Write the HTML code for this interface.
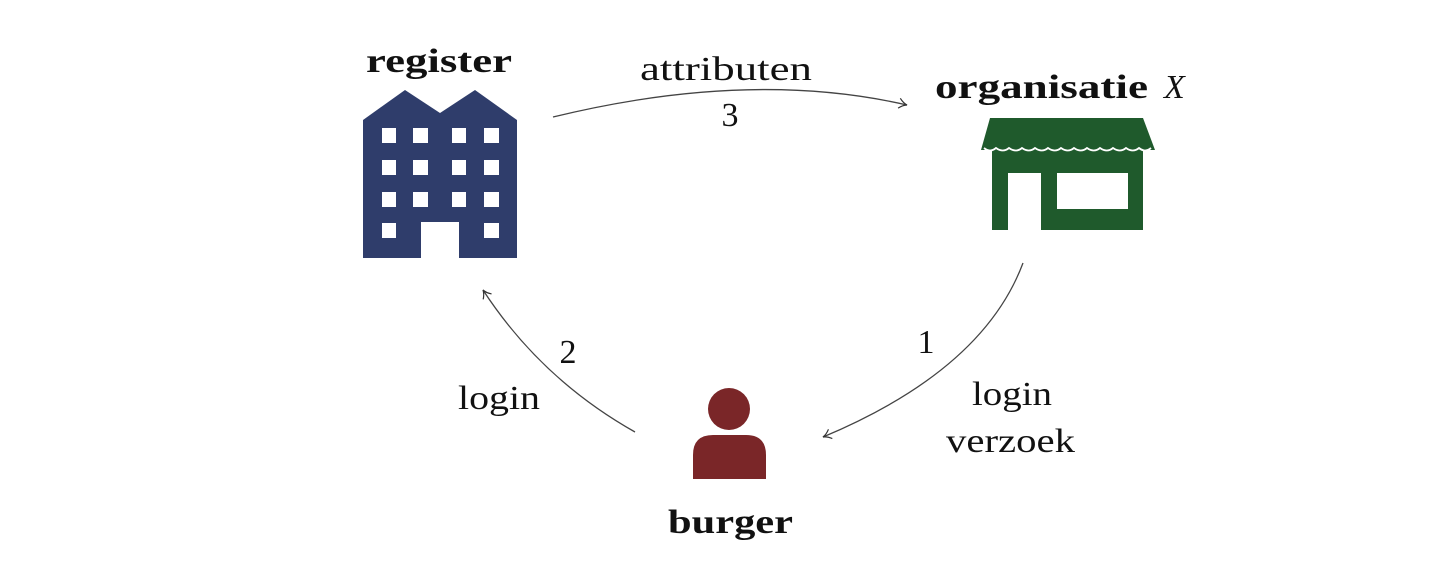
<!DOCTYPE html>
<html><head><meta charset="utf-8"><style>
html,body{margin:0;padding:0;background:#fff;width:1440px;height:573px;overflow:hidden}
svg{display:block}
text{font-family:"Liberation Serif",serif;fill:#111}
</style></head><body>
<svg width="1440" height="573" viewBox="0 0 1440 573" xmlns="http://www.w3.org/2000/svg">
<defs>
<marker id="ah" markerWidth="12" markerHeight="12" refX="10" refY="6" orient="auto" markerUnits="userSpaceOnUse">
<path d="M2,1 Q6,5 10,6 Q6,7 2,11" fill="none" stroke="#333" stroke-width="1.2"/>
</marker>
</defs>
<!-- building -->
<path d="M363,120 L405,90 L440,113 L475,90 L517,120 L517,258 L459,258 L459,222 L421,222 L421,258 L363,258 Z" fill="#2f3d6b"/>
<g fill="#fff">
<rect x="382" y="128" width="14" height="15"/><rect x="413" y="128" width="15" height="15"/><rect x="452" y="128" width="14" height="15"/><rect x="484" y="128" width="15" height="15"/>
<rect x="382" y="160" width="14" height="15"/><rect x="413" y="160" width="15" height="15"/><rect x="452" y="160" width="14" height="15"/><rect x="484" y="160" width="15" height="15"/>
<rect x="382" y="192" width="14" height="15"/><rect x="413" y="192" width="15" height="15"/><rect x="452" y="192" width="14" height="15"/><rect x="484" y="192" width="15" height="15"/>
<rect x="382" y="223" width="14" height="15"/><rect x="484" y="223" width="15" height="15"/>
</g>
<!-- shop -->
<path d="M990,118 L1143,118 L1155,150 L981,150 Z" fill="#1f5a2c"/>
<path d="M992,150 L1143,150 L1143,230 L1041,230 L1041,173 L1008,173 L1008,230 L992,230 Z M1057,173 L1057,209 L1128,209 L1128,173 Z" fill="#1f5a2c" fill-rule="evenodd"/>
<path d="M984,148 q6,5 12,0 q7,5 13,0 q7,5 13,0 q7,5 13,0 q7,5 13,0 q7,5 13,0 q7,5 13,0 q7,5 13,0 q7,5 13,0 q7,5 13,0 q7,5 13,0 q7,5 13,0 q6,5 12,0" fill="none" stroke="#fff" stroke-width="1.8"/>
<!-- person -->
<circle cx="729" cy="409" r="21" fill="#7a2628"/>
<path d="M693,479 L693,455 Q693,435 713,435 L746,435 Q766,435 766,455 L766,479 Z" fill="#7a2628"/>
<!-- arrows -->
<path d="M553,117 Q750,69 907,105" fill="none" stroke="#444" stroke-width="1.3" marker-end="url(#ah)"/>
<path d="M1023,263 Q983,370 823,437" fill="none" stroke="#444" stroke-width="1.3" marker-end="url(#ah)"/>
<path d="M635,432 Q541,379 483,290" fill="none" stroke="#444" stroke-width="1.3" marker-end="url(#ah)"/>
<!-- labels -->
<text x="366" y="72" font-size="34" font-weight="bold" textLength="146" lengthAdjust="spacingAndGlyphs">register</text>
<text x="935" y="98" font-size="34" font-weight="bold" textLength="213" lengthAdjust="spacingAndGlyphs">organisatie</text>
<text x="1164" y="98" font-size="34" font-style="italic">X</text>
<text x="668" y="533" font-size="34" font-weight="bold" textLength="125" lengthAdjust="spacingAndGlyphs">burger</text>
<text x="640" y="80" font-size="34" textLength="172" lengthAdjust="spacingAndGlyphs">attributen</text>
<text x="730" y="126" font-size="34" text-anchor="middle">3</text>
<text x="568" y="363" font-size="34" text-anchor="middle">2</text>
<text x="458" y="409" font-size="34" textLength="82" lengthAdjust="spacingAndGlyphs">login</text>
<text x="926" y="353" font-size="34" text-anchor="middle">1</text>
<text x="972" y="405" font-size="34" textLength="80" lengthAdjust="spacingAndGlyphs">login</text>
<text x="946" y="452" font-size="34" textLength="129" lengthAdjust="spacingAndGlyphs">verzoek</text>
</svg>
</body></html>
